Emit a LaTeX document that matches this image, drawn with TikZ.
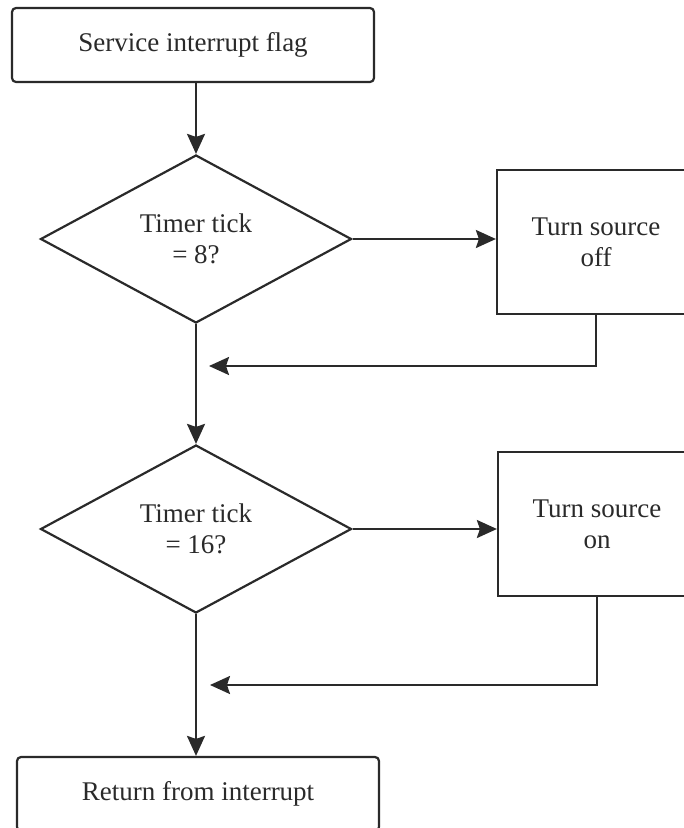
\documentclass[tikz,border=0pt]{standalone}
\usepackage{fontspec}
\setmainfont{Liberation Serif}
\usepackage{tikz}
\usetikzlibrary{arrows.meta,shapes.geometric}
\definecolor{inkc}{HTML}{2A2A2A}

\begin{document}
\begin{tikzpicture}[x=1pt,y=-1pt,font=\fontsize{27}{31}\selectfont,
  color=inkc,line width=2.2pt,
  blk/.style={draw,rectangle,inner sep=0pt,align=center},
  endbox/.style={blk,rounded corners=4pt,minimum width=362pt,minimum height=74pt},
  actbox/.style={blk,minimum width=198pt,minimum height=144pt},
  test/.style={draw,diamond,minimum width=311pt,minimum height=168pt,
               inner sep=0pt,align=center},
  flow/.style={-{Stealth[length=20pt,width=18pt,inset=3pt]}},
]
\useasboundingbox (0,0) rectangle (684,828);
\clip (0,0) rectangle (684,828);

% main column
\node[endbox] (start) at (193,45) {Service interrupt flag};
\node[test] (tick8) at (196,239) {Timer tick\\= 8?};
\node[test] (tick16) at (196,529) {Timer tick\\= 16?};
\node[endbox] (finish) at (198,794) {Return from interrupt};

% side actions
\node[actbox] (srcoff) at (596,242) {Turn source\\off};
\node[actbox] (srcon) at (597,524) {Turn source\\on};

\coordinate (join8) at (209,366);
\coordinate (join16) at (210,685);

\draw[flow] (tick8.north |- start.south) -- (tick8.north);
\draw[flow] (tick8.east) -- (tick8.east -| srcoff.west);
\draw[flow] (srcoff.south) |- (join8);
\draw[flow] (tick8.south) -- (tick16.north);
\draw[flow] (tick16.east) -- (tick16.east -| srcon.west);
\draw[flow] (srcon.south) |- (join16);
\draw[flow] (tick16.south) -- (finish.north -| tick16.south);
\end{tikzpicture}
\end{document}
